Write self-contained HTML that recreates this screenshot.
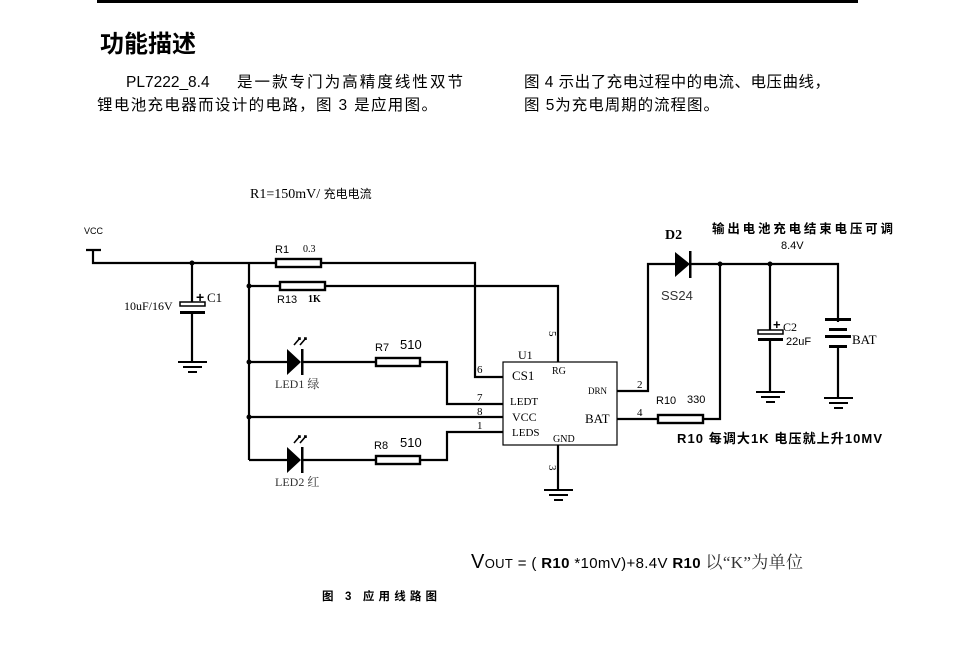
<!DOCTYPE html>
<html><head><meta charset="utf-8"><style>
html,body{margin:0;padding:0;background:#fff;width:962px;height:649px;overflow:hidden}
svg{display:block}
.s{font-family:"Liberation Sans","Noto Sans CJK SC",sans-serif}
.r{font-family:"Liberation Serif","Noto Serif CJK SC",serif}
</style></head><body>
<svg width="962" height="649" viewBox="0 0 962 649" xmlns="http://www.w3.org/2000/svg">
<rect x="97" y="0" width="761" height="3" fill="#000"/>
<text x="100" y="52" class="s" font-size="24" font-weight="bold" textLength="96" lengthAdjust="spacingAndGlyphs">功能描述</text>
<text x="126" y="87" class="s" font-size="15.5">PL7222_8.4</text>
<text x="237" y="87" class="s" font-size="15.5" textLength="226" lengthAdjust="spacing">是一款专门为高精度线性双节</text>
<text x="97" y="110" class="s" font-size="15.5" textLength="340" lengthAdjust="spacing">锂电池充电器而设计的电路，图 3 是应用图。</text>
<text x="524" y="87" class="s" font-size="15.5" textLength="306" lengthAdjust="spacing">图 4 示出了充电过程中的电流、电压曲线，</text>
<text x="524" y="110" class="s" font-size="15.5" textLength="195" lengthAdjust="spacing">图 5为充电周期的流程图。</text>

<text x="250" y="198" class="r" font-size="14">R1=150mV/ <tspan class="s" font-size="12">充电电流</tspan></text>
<text x="84" y="234" class="s" font-size="9">VCC</text>

<g stroke="#000" stroke-width="2.2" fill="none">
<path d="M86 250H101M93 250V263H276M321 263H475V377H503"/>
<path d="M249 263V460M249 286H280M325 286H558V362"/>
<path d="M192 263V303M192 313V362"/>
<path d="M249 362H287M302 362H376M420 362H447V404H503"/>
<path d="M249 417H503"/>
<path d="M249 460H287M302 460H376M420 460H447V432H503"/>
<path d="M558 445V490"/>
<path d="M617 391H648V264H675M690 264H838V322M838 345V398"/>
<path d="M617 419H658M703 419H720V264"/>
<path d="M770 264V330M770 340V392"/>
</g>
<g fill="#000">
<circle cx="192" cy="263" r="2.5"/><circle cx="249" cy="286" r="2.5"/><circle cx="249" cy="362" r="2.5"/><circle cx="249" cy="417" r="2.5"/>
<circle cx="720" cy="264" r="2.5"/><circle cx="770" cy="264" r="2.5"/>
</g>
<g fill="#fff" stroke="#000" stroke-width="2.4">
<rect x="276" y="259" width="45" height="8"/>
<rect x="280" y="282" width="45" height="8"/>
<rect x="376" y="358" width="44" height="8"/>
<rect x="376" y="456" width="44" height="8"/>
<rect x="658" y="415" width="45" height="8"/>
</g>
<rect x="180" y="302" width="25" height="4" fill="#fff" stroke="#000" stroke-width="1.5"/>
<rect x="180" y="311" width="25" height="3" fill="#000"/>
<text x="196" y="302" class="s" font-size="14" font-weight="bold">+</text>
<text x="207" y="302" class="r" font-size="13">C1</text>
<text x="124" y="310" class="r" font-size="12">10uF/16V</text>
<g stroke="#000" stroke-width="2">
<path d="M178 362H207M183 367H202M188 372H197"/>
<path d="M544 490H573M549 495H568M554 500H563"/>
<path d="M756 392H785M761 397H780M766 402H775"/>
<path d="M824 398H853M829 403H848M834 408H843"/>
</g>
<g fill="#000">
<path d="M287 349L301 362L287 375Z"/><rect x="301" y="349" width="2.5" height="26"/>
<path d="M287 447L301 460L287 473Z"/><rect x="301" y="447" width="2.5" height="26"/>
</g>
<g stroke="#000" stroke-width="1.6" fill="none">
<path d="M294 345L300 338M298 338H300V340M300 345L306 338M304 338H306V340"/>
<path d="M294 443L300 436M298 436H300V438M300 443L306 436M304 436H306V438"/>
</g>
<text x="275" y="388" class="r" font-size="12" fill="#333">LED1 绿</text>
<text x="275" y="486" class="r" font-size="12" fill="#333">LED2 红</text>
<text x="275" y="253" class="s" font-size="11">R1</text><text x="303" y="252" class="r" font-size="10">0.3</text>
<text x="277" y="303" class="s" font-size="11">R13</text><text x="308" y="302" class="r" font-size="10" font-weight="bold">1K</text>
<text x="375" y="351" class="s" font-size="11">R7</text><text x="400" y="349" class="s" font-size="13">510</text>
<text x="374" y="449" class="s" font-size="11">R8</text><text x="400" y="447" class="s" font-size="13">510</text>
<rect x="503" y="362" width="114" height="83" fill="#fff" stroke="#000" stroke-width="1.2"/>
<text x="518" y="359" class="r" font-size="12">U1</text>
<g class="r" font-size="11">
<text x="512" y="380" font-size="13">CS1</text>
<text x="510" y="405">LEDT</text>
<text x="512" y="421" font-size="12">VCC</text>
<text x="512" y="436">LEDS</text>
<text x="552" y="374" font-size="10">RG</text>
<text x="588" y="394" font-size="9">DRN</text>
<text x="585" y="423" font-size="13">BAT</text>
<text x="553" y="442" font-size="10">GND</text>
<text x="477" y="373">6</text><text x="477" y="401">7</text><text x="477" y="415">8</text><text x="477" y="429">1</text>
<text x="637" y="388">2</text><text x="637" y="416">4</text>
<text x="550" y="338" transform="rotate(90 553 334)">5</text>
<text x="550" y="472" transform="rotate(90 553 468)">3</text>
</g>
<path d="M675 252L690 264L675 277Z" fill="#000"/><rect x="689" y="251" width="2.5" height="27" fill="#000"/>
<text x="665" y="239" class="r" font-size="14" font-weight="bold">D2</text>
<text x="661" y="300" class="s" font-size="13" fill="#333">SS24</text>
<text x="712" y="233" class="s" font-size="12.5" font-weight="bold" textLength="181" lengthAdjust="spacing">输出电池充电结束电压可调</text>
<text x="781" y="249" class="s" font-size="11">8.4V</text>
<rect x="758" y="330" width="25" height="4" fill="#fff" stroke="#000" stroke-width="1.5"/>
<rect x="758" y="338" width="25" height="3" fill="#000"/>
<text x="773" y="329" class="s" font-size="13" font-weight="bold">+</text>
<text x="783" y="331" class="r" font-size="12">C2</text>
<text x="786" y="345" class="s" font-size="11">22uF</text>
<rect x="825" y="318" width="26" height="3" fill="#000"/>
<rect x="829" y="328" width="18" height="3" fill="#000"/>
<rect x="825" y="335" width="26" height="3" fill="#000"/>
<rect x="829" y="345" width="18" height="3" fill="#000"/>
<text x="852" y="344" class="r" font-size="13">BAT</text>
<text x="656" y="404" class="s" font-size="11">R10</text><text x="687" y="403" class="s" font-size="11">330</text>
<text x="677" y="443" class="s" font-size="13" font-weight="bold" textLength="205" lengthAdjust="spacing">R10 每调大1K 电压就上升10MV</text>
<text x="471" y="568" class="s" font-size="20" textLength="332" lengthAdjust="spacing">V<tspan font-size="13">OUT</tspan><tspan font-size="15"> = ( </tspan><tspan font-size="15" font-weight="bold">R10</tspan><tspan font-size="15"> *10mV)+8.4V  </tspan><tspan font-size="15" font-weight="bold">R10</tspan><tspan class="r" font-size="17" fill="#333"> 以“K”为单位</tspan></text>
<text x="322" y="600" class="s" font-size="11.5" font-weight="bold" textLength="115" lengthAdjust="spacing">图 3   应用线路图</text>
</svg>
</body></html>
